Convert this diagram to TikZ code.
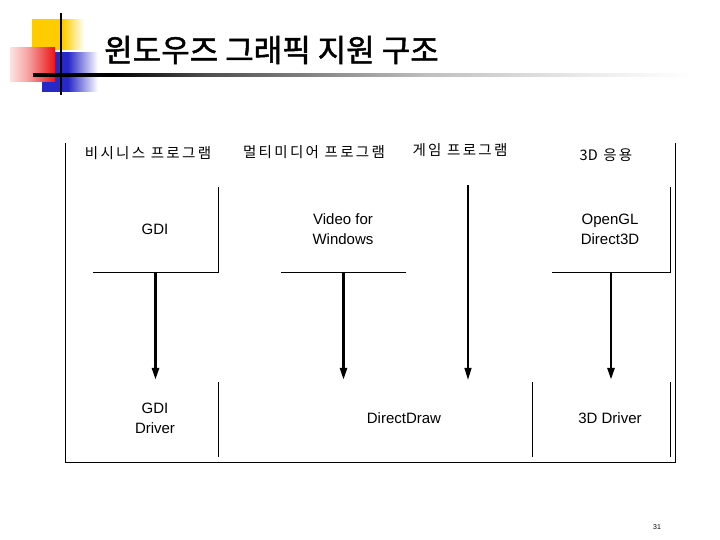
\documentclass[tikz,border=0pt]{standalone}
\usepackage{fontspec}
\setmainfont{Liberation Sans}
\newfontfamily\kor{Noto Sans CJK KR}
\newfontfamily\kortitle{Noto Sans CJK KR}[FakeBold=1.6]
\newfontfamily\korsp{Noto Sans CJK KR}[LetterSpace=16]
\usetikzlibrary{arrows.meta}
\definecolor{logoY}{RGB}{255,204,0}
\definecolor{logoB}{RGB}{40,40,200}
\definecolor{logoR}{RGB}{235,20,20}
\pgfdeclarehorizontalshading{titleline}{100bp}{color(0bp)=(black); color(25bp)=(black); color(31bp)=(black); color(38bp)=(black!70); color(55bp)=(black!25); color(67bp)=(black!8); color(75bp)=(white); color(100bp)=(white)}
\pgfdeclarehorizontalshading{yellowfade}{100bp}{color(0bp)=(logoY); color(25bp)=(logoY); color(55bp)=(logoY); color(75bp)=(white); color(100bp)=(white)}
\pgfdeclarehorizontalshading{bluefade}{100bp}{color(0bp)=(logoB); color(25bp)=(logoB); color(48bp)=(logoB); color(75bp)=(white); color(100bp)=(white)}
\pgfdeclarehorizontalshading{redfade}{100bp}{color(0bp)=(logoR!12); color(25bp)=(logoR!12); color(45bp)=(logoR!40); color(75bp)=(logoR); color(100bp)=(logoR)}
\tikzset{
  lbl/.style={font=\korsp\fontsize{14.5}{16}\selectfont, inner sep=0pt},
  txt/.style={font=\fontsize{15}{20}\selectfont, align=center, inner sep=0pt},
  area/.style={inner sep=0pt, draw=none},
  thinline/.style={line width=0.9pt},
  bigarrow/.style={line width=2.6pt, -{Triangle[length=12pt,width=7pt]}},
  smallarrow/.style={line width=1.6pt, -{Triangle[length=12pt,width=7pt]}},
}
\begin{document}
\begin{tikzpicture}[x=1pt,y=-1pt]
\useasboundingbox (0,0) rectangle (720,540);
% logo
\shade[shading=yellowfade] (32,20) rectangle (84,50);
\shade[shading=bluefade] (42,53) rectangle (98,92);
\shade[shading=redfade] (10,48) rectangle (55,82);
\shade[shading=titleline] (33,73.6) rectangle (690,76.4);
\draw[line width=2pt] (61,13) -- (61,95);
% title
\node[inner sep=0pt, anchor=west, font=\kortitle\fontsize{31}{34}\selectfont] (title) at (104,50) {윈도우즈 그래픽 지원 구조};
% frame
\draw[thinline] (65,143) -- (65,462) -- (675,462) -- (675,143);
% top labels
\node[lbl] (biz) at (148,153) {비시니스 프로그램};
\node[lbl] (mm) at (314,152) {멀티미디어 프로그램};
\node[lbl] (game) at (460,150) {게임 프로그램};
\node[lbl] (app3d) at (606,155) {{\kor 3D} 응용};
% upper boxes
\node[area, minimum width=125pt, minimum height=85pt] (gdibox) at (155.5,229.5) {};
\node[area, minimum width=125pt, minimum height=85pt] (vfwbox) at (343.5,229.5) {};
\node[area, minimum width=118pt, minimum height=85pt] (oglbox) at (611,229.5) {};
\draw[thinline] (gdibox.north east) -- (gdibox.south east) -- (gdibox.south west);
\draw[thinline] (vfwbox.south east) -- (vfwbox.south west);
\draw[thinline] (oglbox.north east) -- (oglbox.south east) -- (oglbox.south west);
\node[txt] (gdi) at (155,229) {GDI};
\node[txt] (vfw) at (343,229) {Video for\\Windows};
\node[txt] (ogl) at (610,229) {OpenGL\\Direct3D};
% lower boxes
\node[area, minimum width=153pt, minimum height=75pt] (gdidrvbox) at (141.5,419.5) {};
\node[area, minimum width=314pt, minimum height=75pt] (ddbox) at (375,419.5) {};
\node[area, minimum width=138pt, minimum height=75pt] (drvbox) at (601,419.5) {};
\draw[thinline] (gdidrvbox.north east) -- (gdidrvbox.south east);
\draw[thinline] (ddbox.north east) -- (ddbox.south east);
\draw[thinline] (drvbox.north east) -- (drvbox.south east);
\node[txt] (gdidrv) at (155,418) {GDI\\Driver};
\node[txt] (dd) at (404,418) {DirectDraw};
\node[txt] (drv3d) at (610,418) {3D Driver};
% arrows
\coordinate (gametop) at (468,185);
\draw[bigarrow] (gdibox.south) -- ([yshift=2pt]gdibox.south |- gdidrvbox.north);
\draw[bigarrow] (vfwbox.south) -- ([yshift=2pt]vfwbox.south |- ddbox.north);
\draw[bigarrow] (oglbox.south) -- ([yshift=2pt]oglbox.south |- drvbox.north);
\draw[smallarrow] (gametop) -- ([yshift=2pt]gametop |- ddbox.north);
% page number
\node[inner sep=0pt, font=\fontsize{7}{8}\selectfont] (pg) at (657,527) {31};
\end{tikzpicture}
\end{document}
